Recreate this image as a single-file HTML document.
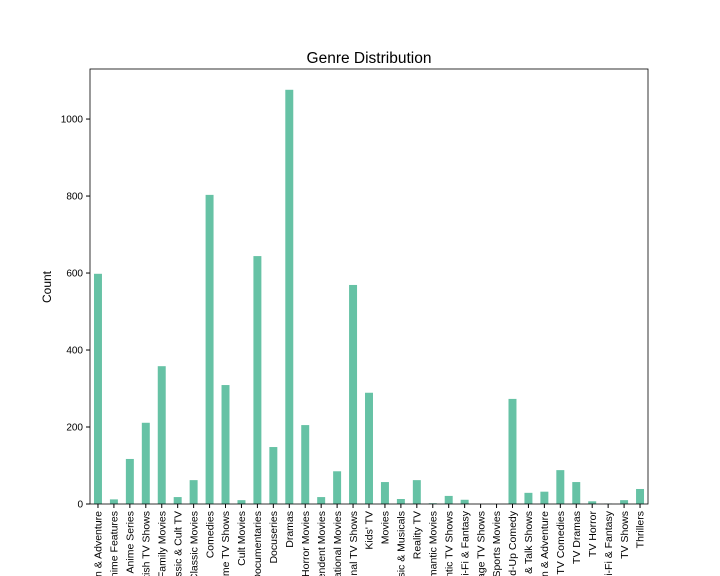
<!DOCTYPE html>
<html><head><meta charset="utf-8"><style>
html,body{margin:0;background:#fff;font-family:"Liberation Sans",sans-serif;width:720px;height:576px;overflow:hidden;}
svg{display:block;overflow:hidden}
</style></head><body>
<svg id="chart" width="720" height="576">
<text x="369" y="63" font-size="15.5" text-anchor="middle">Genre Distribution</text>
<text transform="translate(51,287) rotate(-90)" font-size="12" text-anchor="middle">Count</text>
<g id="bars"></g><g id="axes"></g>
</svg>
<script>
const categories=["Action & Adventure","Anime Features","Anime Series","British TV Shows","Children & Family Movies","Classic & Cult TV","Classic Movies","Comedies","Crime TV Shows","Cult Movies","Documentaries","Docuseries","Dramas","Horror Movies","Independent Movies","International Movies","International TV Shows","Kids' TV","Movies","Music & Musicals","Reality TV","Romantic Movies","Romantic TV Shows","Sci-Fi & Fantasy","Spanish-Language TV Shows","Sports Movies","Stand-Up Comedy","Stand-Up Comedy & Talk Shows","TV Action & Adventure","TV Comedies","TV Dramas","TV Horror","TV Sci-Fi & Fantasy","TV Shows","Thrillers"];
const counts=[598,12,117,211,358,18,62,803,309,10,644,148,1076,205,18,85,569,289,57,13,62,2,21,11,0,0,273,29,32,88,57,7,1,10,39];
const yTicks=[0,200,400,600,800,1000];
const L=90,R=648,T=69,B=504,YMAX=1130;
const ns="http://www.w3.org/2000/svg";
function y(v){return B-(v/YMAX)*(B-T);}
const step=(R-L)/categories.length;
function x(i){return L+step*(i+0.5);}
function mk(t,a,p){const e=document.createElementNS(ns,t);for(const k in a)e.setAttribute(k,a[k]);p.appendChild(e);return e;}
const bars=document.getElementById('bars'),axes=document.getElementById('axes');
counts.forEach((v,i)=>{
 const r=mk('rect',{x:x(i)-step*0.25,y:y(v),width:step*0.5,height:B-y(v),fill:'#66c2a5'},bars);
 
 
 mk('line',{x1:x(i),x2:x(i),y1:B,y2:B+4,stroke:'#000'},axes);
 const t=mk('text',{transform:`translate(${x(i)+3.7},${B+7}) rotate(-90)`,'font-size':10.5,'text-anchor':'end'},axes);
 t.textContent=categories[i];
 
 
});
yTicks.forEach(v=>{
 mk('line',{x1:L-4,x2:L,y1:y(v),y2:y(v),stroke:'#000'},axes);
 const t=mk('text',{x:L-7,y:y(v)+3.5,'font-size':10,'text-anchor':'end'},axes);
 t.textContent=v;
 
 
});
const f=mk('rect',{x:L,y:T,width:R-L,height:B-T,fill:'none',stroke:'#000','stroke-width':0.8},axes);


</script>
</body></html>
